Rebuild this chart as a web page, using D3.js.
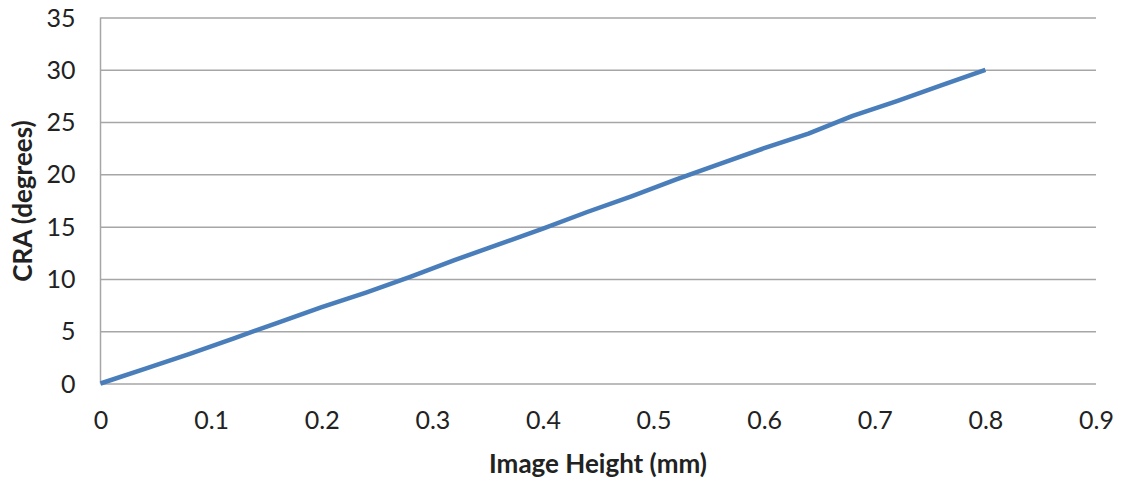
<!DOCTYPE html>
<html>
<head>
<meta charset="utf-8">
<script src="https://cdn.jsdelivr.net/npm/d3@7"></script>
<style>
  body { margin: 0; background: #fff; }
  text { font-family: Lato, "Open Sans", sans-serif; fill: #222; }
</style>
</head>
<body>
<svg id="chart" width="1123" height="483"></svg>
<script>
// image height (mm) vs chief ray angle (deg)
var imageHeight = [0, 0.04, 0.08, 0.12, 0.16, 0.2, 0.24, 0.28, 0.32, 0.36, 0.4,
                   0.44, 0.48, 0.52, 0.56, 0.6, 0.64, 0.68, 0.72, 0.76, 0.8];
var craDegrees = [0, 1.4, 2.8, 4.3, 5.8, 7.3, 8.7, 10.2, 11.8, 13.3, 14.8,
                  16.4, 17.9, 19.5, 21.0, 22.5, 23.9, 25.6, 27.0, 28.5, 30.0];
var xTicks = [0, 0.1, 0.2, 0.3, 0.4, 0.5, 0.6, 0.7, 0.8, 0.9];
var yTicks = [0, 5, 10, 15, 20, 25, 30, 35];

var margin = {left: 100.5, right: 1123 - 1096, top: 17.5, bottom: 483 - 383.5};
var svg = d3.select('#chart');
var w = 1123 - margin.left - margin.right;
var h = 483 - margin.top - margin.bottom;

var x = d3.scaleLinear().domain([0, 0.9]).range([0, w]);
var y = d3.scaleLinear().domain([0, 35]).range([h, 0]);

var g = svg.append('g').attr('transform', 'translate(' + margin.left + ',' + margin.top + ')');

// horizontal gridlines
g.append('g')
    .call(d3.axisLeft(y).tickValues(yTicks).tickSize(-w).tickFormat(''))
    .call(function (s) { s.select('.domain').remove(); })
    .selectAll('line')
    .attr('stroke', '#a6a6a6')
    .attr('stroke-width', 1.5);

// y axis labels
g.append('g')
    .call(d3.axisLeft(y).tickValues(yTicks).tickSize(0).tickPadding(25).tickFormat(d3.format('d')))
    .call(function (s) { s.select('.domain').remove(); })
    .selectAll('text')
    .attr('dy', '0.34em')
    .style('font-size', '25px');

// left axis line
g.append('line')
    .attr('x1', 0).attr('x2', 0).attr('y1', 0).attr('y2', h)
    .attr('stroke', '#a6a6a6').attr('stroke-width', 1.5);

// x axis labels
g.append('g')
    .attr('transform', 'translate(0,' + h + ')')
    .call(d3.axisBottom(x).tickValues(xTicks).tickSize(0).tickPadding(28).tickFormat(function (d) { return d === 0 ? '0' : d3.format('.1f')(d); }))
    .call(function (s) { s.select('.domain').remove(); })
    .selectAll('text')
    .style('font-size', '25px');

var line = d3.line()
    .x(function (d, i) { return x(imageHeight[i]); })
    .y(function (d) { return y(d); });

g.append('path')
    .datum(craDegrees)
    .attr('fill', 'none')
    .attr('stroke', '#4a7ebb')
    .attr('stroke-width', 4.5)
    .attr('stroke-linejoin', 'round')
    .attr('d', line);

svg.append('text')
    .attr('x', 598).attr('y', 473)
    .attr('text-anchor', 'middle')
    .style('font-size', '26px')
    .style('font-weight', 'bold')
    .text('Image Height (mm)');

svg.append('text')
    .attr('transform', 'translate(32,201) rotate(-90)')
    .attr('text-anchor', 'middle')
    .style('font-size', '26px')
    .style('font-weight', 'bold')
    .text('CRA (degrees)');
</script>
</body>
</html>
